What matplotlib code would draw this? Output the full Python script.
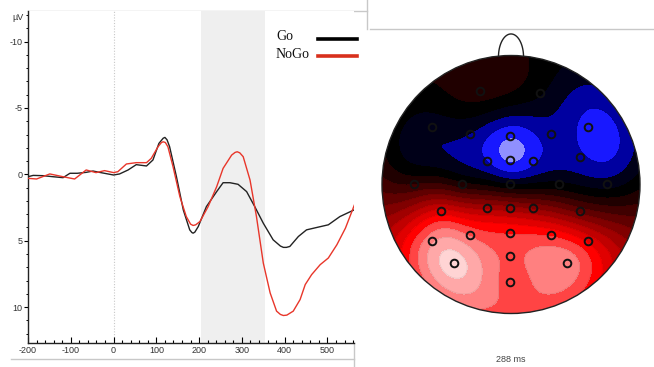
import numpy as np
import matplotlib
matplotlib.use("Agg")
import matplotlib.pyplot as plt
from matplotlib.colors import ListedColormap, BoundaryNorm
from matplotlib.patches import Circle
from matplotlib.lines import Line2D
from numpy.polynomial import legendre

plt.rcParams['axes.unicode_minus'] = False

# ERP waveforms (ms, µV; negative plotted upward)
go_t = [-200, -188, -165, -141, -118, -102, -85, -64, -48, -33, 0, 14, 34, 53, 77, 92,
        106, 116, 120, 125, 131, 147, 163, 178, 183, 186, 190, 198, 217, 241, 256, 272,
        291, 311, 330, 350, 373, 390, 397, 404, 412, 432, 451, 475, 502, 529, 562]
go_v = [0.18, 0.08, 0.1, 0.18, 0.25, -0.08, -0.08, -0.15, -0.25, -0.15, 0.05, -0.03,
        -0.33, -0.73, -0.63, -1.08, -2.33, -2.72, -2.78, -2.6, -2.08, 0.18, 2.68, 4.18,
        4.38, 4.43, 4.35, 3.93, 2.43, 1.3, 0.63, 0.63, 0.75, 1.3, 2.43, 3.68, 4.93,
        5.4, 5.5, 5.5, 5.43, 4.68, 4.18, 4.0, 3.8, 3.18, 2.68]

nogo_t = [-200, -180, -149, -118, -91, -64, -41, -21, 0, 10, 30, 53, 77, 88, 104, 112,
          116, 121, 127, 139, 155, 170, 180, 186, 192, 202, 221, 241, 256, 276, 284,
          289, 295, 303, 319, 334, 350, 366, 381, 390, 397, 405, 420, 436, 448, 463,
          483, 502, 522, 542, 563]
nogo_v = [0.3, 0.35, -0.03, 0.18, 0.35, -0.33, -0.13, -0.28, -0.13, -0.2, -0.78, -0.88,
          -0.88, -1.2, -2.08, -2.4, -2.45, -2.4, -2.08, -0.58, 1.68, 3.18, 3.75, 3.85,
          3.8, 3.55, 2.43, 0.93, -0.45, -1.45, -1.65, -1.7, -1.62, -1.33, 0.43, 3.18,
          6.68, 8.93, 10.3, 10.55, 10.63, 10.6, 10.3, 9.43, 8.3, 7.55, 6.8, 6.3, 5.3,
          4.05, 2.3]

window = (204, 354)

# scalp map at 288 ms: electrode positions (unit head radius) and band values
elec_x = [-0.238, 0.227, -0.612, -0.320, -0.005, 0.307, 0.600, -0.186, -0.005, 0.171,
          0.532, -0.752, -0.380, -0.005, 0.370, 0.744, -0.545, -0.186, -0.005, 0.171,
          0.532, -0.612, -0.320, -0.005, 0.307, 0.600, -0.442, -0.005, 0.437, -0.005]
elec_y = [0.721, 0.713, 0.444, 0.393, 0.377, 0.393, 0.444, 0.186, 0.191, 0.186,
          0.212, 0.003, 0.003, 0.003, 0.003, 0.003, -0.204, -0.183, -0.183, -0.183,
          -0.204, -0.437, -0.390, -0.377, -0.390, -0.437, -0.610, -0.558, -0.610, -0.752]
topo_values = [1.0, -0.4, -1.1, -1.5, -3.4, -2.0, -2.9, -2.5, -3.7, -2.8,
               -2.3, 1.4, 0.7, -0.6, -0.3, -1.0, 6.8, 5.2, 4.8, 4.3,
               3.0, 10.2, 9.3, 8.4, 8.3, 7.2, 12.0, 9.3, 10.2, 9.1]

band_colors = ['#9090ff', '#1818ff', '#0000a0', '#000018', '#000000',
               '#200000', '#400000', '#600000', '#800000', '#a00000', '#c00000',
               '#e00000', '#ff0000', '#ff4444', '#ff8080', '#ffa8a8', '#ffd4d4']


def to_sphere(x, y, tmax=np.deg2rad(120)):
    r = np.hypot(x, y)
    ph = np.arctan2(y, x)
    th = r * tmax
    return np.stack([np.sin(th) * np.cos(ph), np.sin(th) * np.sin(ph), np.cos(th)], -1)


def spherical_spline(xe, ye, ve, xg, yg, m=3, nterms=40, lam=1e-5):
    xe, ye, ve = map(np.asarray, (xe, ye, ve))
    n = len(ve)
    coef = np.array([0] + [(2 * k + 1) / (k * (k + 1)) ** m
                           for k in range(1, nterms + 1)]) / (4 * np.pi)
    g = lambda c: legendre.legval(np.clip(c, -1, 1), coef)
    pe = to_sphere(xe, ye)
    A = np.zeros((n + 1, n + 1))
    A[:n, :n] = g(pe @ pe.T) + lam * np.eye(n)
    A[:n, n] = 1
    A[n, :n] = 1
    sol = np.linalg.solve(A, np.concatenate([ve, [0]]))
    pg = to_sphere(xg, yg)
    return g(pg @ pe.T) @ sol[:n] + sol[n]


W, H = 654, 367
fig = plt.figure(figsize=(W / 100, H / 100), dpi=100)

# panel borders
bg = fig.add_axes([0, 0, 1, 1], zorder=-5)
bg.set_xlim(0, W)
bg.set_ylim(H, 0)
bg.axis('off')
for xs, ys in [([28, 367], [11, 11]), ([367, 367], [0, 29]), ([370, 654], [29, 29]),
               ([11, 354], [359, 359]), ([354, 354], [343, 367])]:
    bg.plot(xs, ys, color='#c8c8c8', lw=1)

# ---- ERP panel ----
ax = fig.add_axes([28 / W, 1 - 343 / H, 326 / W, 332 / H])
ax.axvspan(*window, color='#efefef', lw=0, zorder=0)
ax.axvline(0, color='#c8c8c8', lw=0.8, ls=(0, (1, 1.5)), zorder=1)
ax.plot(go_t, go_v, color='#222222', lw=1.0, zorder=3)
ax.plot(nogo_t, nogo_v, color='#e8362a', lw=1.0, zorder=4)
ax.set_xlim(-200, 562)
ax.set_ylim(12.7, -12.3)
ax.set_xticks(np.arange(-200, 501, 100))
ax.set_xticks(np.arange(-200, 561, 20), minor=True)
ax.set_yticks([-10, -5, 0, 5, 10])
ax.set_yticks(np.arange(-12, 13, 1), minor=True)
for s in ['top', 'right']:
    ax.spines[s].set_visible(False)
for s in ['left', 'bottom']:
    ax.spines[s].set_color('#222222')
    ax.spines[s].set_linewidth(1.0)
ax.tick_params(axis='x', which='major', direction='in', length=4, width=0.8,
               pad=2, labelsize=6.5, labelcolor='#333333')
ax.tick_params(axis='x', which='minor', direction='in', length=2, width=0.8)
ax.tick_params(axis='y', which='major', direction='out', length=3, width=0.8,
               pad=1, labelsize=6.5, labelcolor='#333333')
ax.tick_params(axis='y', which='minor', direction='out', length=1.5, width=0.7)
for lab in ax.get_xticklabels() + ax.get_yticklabels():
    lab.set_family('Liberation Sans')
fig.text(12 / W, 1 - 17 / H, 'µV', fontsize=6.5, color='#333333',
         family='Liberation Sans', va='center')

# legend drawn as a small table
for name, col, yy in [('Go', '#000000', 37), ('NoGo', '#d8301c', 54)]:
    fig.text(276 / W, 1 - yy / H, name, fontsize=10, family='Liberation Serif',
             va='center', ha='left', color='#111111')
    fig.add_artist(Line2D([318 / W, 357 / W], [1 - (yy + 2) / H] * 2, color=col, lw=2.6))

# ---- scalp map ----
tx = fig.add_axes([371 / W, 1 - 339.5 / H, 280 / W, 310 / H])
tx.set_xlim(-140 / 129, 140 / 129)
tx.set_ylim(-155 / 129, 155 / 129)
tx.axis('off')

gx, gy = np.meshgrid(np.linspace(-1.02, 1.02, 240), np.linspace(-1.02, 1.02, 240))
field = spherical_spline(elec_x, elec_y, topo_values, gx, gy)
levels = np.arange(-4.5, 13.0, 1.0)
cmap = ListedColormap(band_colors)
norm = BoundaryNorm(levels, cmap.N)
field = np.clip(field, levels[0] + 0.01, levels[-1] - 0.01)

head = Circle((0, 0), 1.0, transform=tx.transData, facecolor='none')
cf = tx.contourf(gx, gy, field, levels=levels, cmap=cmap, norm=norm, zorder=1)
cf.set_clip_path(head)
cl = tx.contour(gx, gy, field, levels=levels, colors=[(0, 0, 0, 0.08)],
                linewidths=0.6, zorder=2)
cl.set_clip_path(head)

# nose
t = np.linspace(0, np.pi, 60)
tx.plot(0.097 * np.cos(t), 0.99 + 0.177 * np.sin(t), color='#222222', lw=1.0, zorder=0)
tx.add_patch(Circle((0, 0), 1.0, facecolor='none', edgecolor='#222222', lw=1.0, zorder=3))
tx.plot(elec_x, elec_y, 'o', ms=5.5, mfc='none', mec='#111111', mew=1.4, zorder=4)

fig.text(511 / W, 1 - 359 / H, '288 ms', fontsize=6.5, color='#444444',
         family='Liberation Sans', ha='center', va='center')

fig.savefig('out.png', dpi=100)
